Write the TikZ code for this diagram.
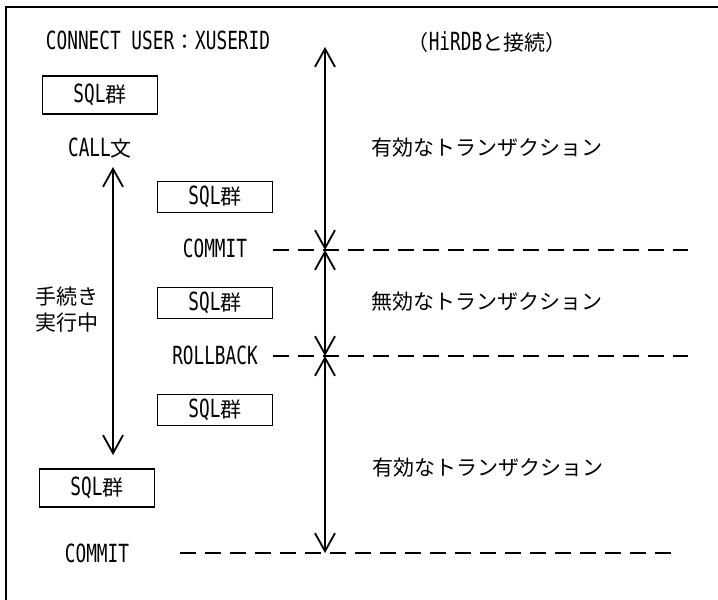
\documentclass[tikz,border=0pt]{standalone}
\usepackage{fontspec}
\setmainfont{DejaVu Sans Mono}[FakeStretch=0.71]
\newfontfamily\jpfont{Noto Sans CJK JP}[Scale=0.84]
\usetikzlibrary{arrows.meta}
\newcommand\jp[1]{{\jpfont #1}}

\begin{document}
\begin{tikzpicture}[x=1pt, y=-1pt, line width=1.8pt,
      font=\fontsize{25}{28}\selectfont,
      sqlbox/.style={draw, minimum width=115pt, minimum height=31pt, inner sep=0pt},
      sqltall/.style={sqlbox, minimum height=38pt},
      lbl/.style={inner sep=0pt},
      span/.style={{Straight Barb[length=18pt,width=20pt]}-{Straight Barb[length=18pt,width=20pt]}},
      sep/.style={dash pattern=on 16pt off 9pt}]

    \useasboundingbox (0,0) rectangle (718,600);

    % frame (cut at right and bottom)
    \draw[line width=2pt] (6,600) -- (6,7) -- (718,7);

    % === left column ===
    \node[lbl] (connect) at (158,40) {CONNECT USER\jp{：}XUSERID};
    \node[sqltall] (sqlA) at (100,95) {SQL\jp{群}};
    \node[lbl] (call) at (100,148) {CALL\jp{文}};
    \node[lbl, align=center, font=\fontsize{25}{26}\selectfont\jpfont] (running) at (67,310) {手続き\\実行中};
    \node[sqltall] (sqlE) at (97,488) {SQL\jp{群}};
    \node[lbl] (commitB) at (97,553) {COMMIT};

    % === procedure column ===
    \node[sqlbox] (sqlB) at (215,197) {SQL\jp{群}};
    \node[lbl] (commitA) at (215,248) {COMMIT};
    \node[sqlbox] (sqlC) at (215,303) {SQL\jp{群}};
    \node[lbl] (rollback) at (215,355) {ROLLBACK};
    \node[sqlbox] (sqlD) at (215,410) {SQL\jp{群}};

    % === transaction labels ===
    \node[lbl] (hirdb) at (487,42) {\jp{（}HiRDB\jp{と接続）}};
    \node[lbl] (validA) at (487,148) {\jp{有効なトランザクション}};
    \node[lbl] (invalid) at (487,302) {\jp{無効なトランザクション}};
    \node[lbl] (validB) at (488,468) {\jp{有効なトランザクション}};

    % arrow points
    \coordinate (runTop) at (113,167);
    \coordinate (runBot) at (113,455);
    \coordinate (top)  at (325,47);
    \coordinate (cutA) at (325,250);
    \coordinate (cutB) at (325,356);
    \coordinate (cutC) at (325,553);
    \coordinate (sepA) at (688,250);
    \coordinate (sepB) at (688,356);
    \coordinate (sepC0) at (180,553);
    \coordinate (sepC) at (672,553);

    % boundaries
    \draw[sep] (sqlB.east |- cutA) -- (sepA);
    \draw[sep] (sqlD.east |- cutB) -- (sepB);
    \draw[sep] (sepC0) -- (sepC);

    % spans
    \draw[span] (runTop) -- (runBot);
    \draw[span] (top) -- (cutA);
    \draw[span] (cutA) -- (cutB);
    \draw[span] (cutB) -- (cutC);

\end{tikzpicture}
\end{document}
